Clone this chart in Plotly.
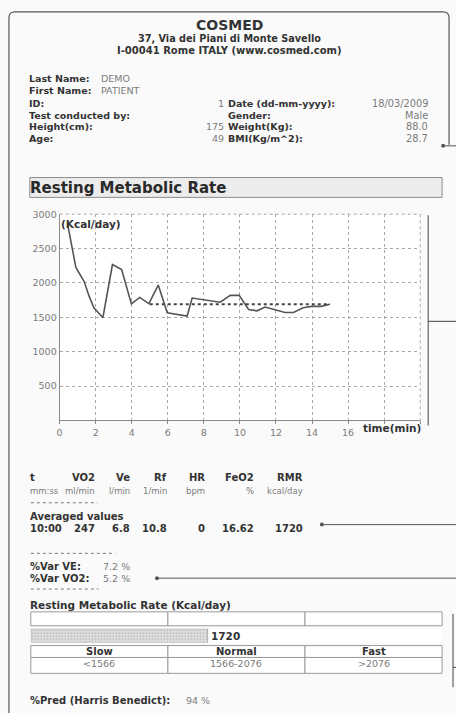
import plotly.graph_objects as go

# ---------------- data ----------------
time_min = [0.45, 0.9, 1.36, 1.64, 1.9, 2.4, 2.93, 3.44, 3.98, 4.44, 4.95, 5.47, 5.97,
            7.07, 7.35, 8.9, 9.47, 9.96, 10.48, 10.95, 11.4, 12.5, 12.97, 13.5, 13.98,
            14.5, 14.99]
rmr_kcal = [2850, 2225, 2020, 1805, 1640, 1495, 2268, 2196, 1696, 1790, 1700, 1970, 1567,
            1519, 1781, 1720, 1820, 1820, 1615, 1595, 1650, 1570, 1570, 1640, 1660,
            1660, 1690]
avg_time = [5.0, 15.0]
avg_rmr = [1690, 1690]

x_ticks = [0, 2, 4, 6, 8, 10, 12, 14, 16, 18, 20]
x_ticklabels = ["0", "2", "4", "6", "8", "10", "12", "14", "16", "", ""]
y_ticks = [0, 500, 1000, 1500, 2000, 2500, 3000]
y_ticklabels = ["", "500", "1000", "1500", "2000", "2500", "3000"]

header_lines = ["COSMED", "37, Via dei Piani di Monte Savello", "I-00041 Rome ITALY (www.cosmed.com)"]
left_labels = ["Last Name:", "First Name:", "ID:", "Test conducted by:", "Height(cm):", "Age:"]
left_values = ["DEMO", "PATIENT", "1", "", "175", "49"]
right_labels = ["", "", "Date (dd-mm-yyyy):", "Gender:", "Weight(Kg):", "BMI(Kg/m^2):"]
right_values = ["", "", "18/03/2009", "Male", "88.0", "28.7"]

col_names = ["t", "VO2", "Ve", "Rf", "HR", "FeO2", "RMR"]
col_units = ["mm:ss", "ml/min", "l/min", "1/min", "bpm", "%", "kcal/day"]
avg_values = ["10:00", "247", "6.8", "10.8", "0", "16.62", "1720"]
var_labels = ["%Var VE:", "%Var VO2:"]
var_values = ["7.2 %", "5.2 %"]
rmr_value = [1720]
rmr_scale = [0, 4000]
class_names = ["Slow", "Normal", "Fast"]
class_ranges = ["<1566", "1566-2076", ">2076"]
pred_label = "%Pred (Harris Benedict):"
pred_value = "94 %"

# ---------------- helpers ----------------
W, H = 456, 713
FONT = "DejaVu Sans, Verdana, sans-serif"
DARK = "#333333"
GREY = "#7a7a7a"


def px(x):
    return x / W


def py(y):
    return 1 - y / H


fig = go.Figure()


def text(x, y, s, size=10, bold=False, color=DARK, anchor="left", family=FONT):
    if anchor == "left":
        x -= 1
    fig.add_annotation(x=px(x), y=py(y), xref="paper", yref="paper", text=s,
                       showarrow=False, xanchor=anchor, yanchor="middle",
                       borderpad=0, borderwidth=0,
                       font=dict(family=family, size=size, color=color,
                                 weight="bold" if bold else "normal"))


def line(x0, y0, x1, y1, color="#555555", width=1, dash="solid"):
    fig.add_shape(type="line", xref="paper", yref="paper", x0=px(x0), y0=py(y0),
                  x1=px(x1), y1=py(y1), line=dict(color=color, width=width, dash=dash))


def rect(x0, y0, x1, y1, color="#999999", fill="rgba(0,0,0,0)", width=1):
    fig.add_shape(type="rect", xref="paper", yref="paper", x0=px(x0), y0=py(y1),
                  x1=px(x1), y1=py(y0), line=dict(color=color, width=width), fillcolor=fill)


def dot(x, y, r=2, color="#555555"):
    fig.add_shape(type="circle", xref="paper", yref="paper", x0=px(x - r), y0=py(y + r),
                  x1=px(x + r), y1=py(y - r), line=dict(color=color, width=0), fillcolor=color)


# ---------------- chart ----------------
fig.add_trace(go.Scatter(x=time_min, y=rmr_kcal, mode="lines",
                         line=dict(color="#555555", width=1.6), xaxis="x", yaxis="y",
                         showlegend=False, hoverinfo="skip"))
fig.add_trace(go.Scatter(x=avg_time, y=avg_rmr, mode="lines",
                         line=dict(color="#444444", width=2, dash="dot"), xaxis="x", yaxis="y",
                         showlegend=False, hoverinfo="skip"))

# RMR bar
fig.add_trace(go.Bar(x=rmr_value, y=[0], orientation="h", width=1, xaxis="x2", yaxis="y2",
                     marker=dict(color="#d8d8d8", line=dict(color="#aaaaaa", width=1),
                                 pattern=dict(shape=".", fgcolor="#8a8a8a", bgcolor="#e6e6e6",
                                              size=3, solidity=0.4)),
                     showlegend=False, hoverinfo="skip"))

fig.update_layout(
    width=W, height=H, autosize=False,
    margin=dict(l=0, r=0, t=0, b=0),
    paper_bgcolor="#fafafa", plot_bgcolor="#ffffff",
    xaxis=dict(domain=[px(57), px(420)], range=[0, 20], tickvals=x_ticks, ticktext=x_ticklabels,
               showgrid=True, gridcolor="#a8a8a8", griddash="dot", gridwidth=1,
               showline=True, linecolor="#8a8a8a", linewidth=1, zeroline=False,
               ticks="outside", ticklen=3, tickcolor="#8a8a8a",
               tickfont=dict(family=FONT, size=9.5, color="#7a7a7a"), anchor="y"),
    yaxis=dict(domain=[py(418), py(210)], range=[0, 3000], tickvals=y_ticks, ticktext=y_ticklabels,
               showgrid=True, gridcolor="#a8a8a8", griddash="dot", gridwidth=1,
               showline=True, linecolor="#8a8a8a", linewidth=1, zeroline=False,
               ticks="", ticklen=0,
               tickfont=dict(family=FONT, size=9.5, color="#7a7a7a"), anchor="x"),
    xaxis2=dict(domain=[px(28), px(442)], range=rmr_scale, visible=False, anchor="y2"),
    yaxis2=dict(domain=[py(642), py(628)], range=[-0.5, 0.5], visible=False, anchor="x2"),
)

# dotted borders at top and right of plot
line(57, 210, 420, 210, color="#a8a8a8", dash="dot")
line(420, 210, 420, 418, color="#a8a8a8", dash="dot")

text(59, 220, "(Kcal/day)", size=10.5, bold=True)
text(392, 426, "time(min)", size=10.5, bold=True, anchor="center")

# ---------------- page frame ----------------
r = 6
path = (f"M {px(6)},{py(713)} L {px(6)},{py(6 + r)} Q {px(6)},{py(6)} {px(6 + r)},{py(6)} "
        f"L {px(449 - r)},{py(6)} Q {px(449)},{py(6)} {px(449)},{py(6 + r)} L {px(449)},{py(140)}")
fig.add_shape(type="path", xref="paper", yref="paper", path=path,
              line=dict(color="#555555", width=1.2))

# ---------------- header ----------------
text(228, 19, header_lines[0], size=14, bold=True, anchor="center")
text(228, 33, header_lines[1], size=9.7, bold=True, anchor="center")
text(228, 45, header_lines[2], size=10, bold=True, anchor="center")

row_y = [73, 85, 98, 110, 122, 134]
for i, yy in enumerate(row_y):
    text(27, yy, left_labels[i], size=9.5, bold=True)
    if left_values[i]:
        if i < 2:
            text(100, yy, left_values[i], size=9.5, color=GREY)
        else:
            text(222, yy, left_values[i], size=9.5, color=GREY, anchor="right")
    if right_labels[i]:
        text(227, yy, right_labels[i], size=9.5, bold=True)
        text(428, yy, right_values[i], size=9.8, color=GREY, anchor="right")

dot(443, 141)
line(443, 141, 456, 141)

# title box
rect(27, 173, 442, 193, color="#8c8c8c", fill="#ececec")
text(28, 184, "Resting Metabolic Rate", size=15, bold=True, color="#2a2a2a")

# right bracket for chart
line(428, 211, 428, 423, color="#444444")
line(428, 318, 456, 318, color="#444444")

# ---------------- table ----------------
col_right = [None, 93, 128, 165, 203, 253, 302]
for i in range(len(col_names)):
    if i == 0:
        text(28, 475, col_names[i], size=10, bold=True)
        text(28, 489, col_units[i], size=8.5, color=GREY)
        text(28, 527, avg_values[i], size=10, bold=True)
    else:
        text(col_right[i], 475, col_names[i], size=10, bold=True, anchor="right")
        text(col_right[i], 489, col_units[i], size=8.5, color=GREY, anchor="right")
        text(col_right[i], 527, avg_values[i], size=10, bold=True, anchor="right")

line(28, 501, 95, 501, color="#777777", dash="dot")
text(28, 515, "Averaged values", size=10, bold=True)
dot(321, 523)
line(321, 523, 456, 523)

line(28, 552, 113, 552, color="#777777", dash="dot")
text(28, 565, var_labels[0], size=10, bold=True)
text(102, 565, var_values[0], size=9.5, color=GREY)
text(28, 577, var_labels[1], size=10, bold=True)
text(102, 577, var_values[1], size=9.5, color=GREY)
dot(155, 577)
line(155, 577, 456, 577)
line(28, 588, 96, 588, color="#777777", dash="dot")

text(28, 604, "Resting Metabolic Rate (Kcal/day)", size=10.5, bold=True)

# empty scale row
xs = [28, 166, 304, 442]
for a, b in zip(xs[:-1], xs[1:]):
    rect(a, 611, b, 625, color="#9a9a9a", fill="#ffffff")
text(210, 635, str(rmr_value[0]), size=10.5, bold=True)

# classification table
for k, (a, b) in enumerate(zip(xs[:-1], xs[1:])):
    rect(a, 645, b, 657, color="#9a9a9a", fill="#ffffff")
    rect(a, 657, b, 673, color="#9a9a9a", fill="#ffffff")
    text((a + b) / 2, 651, class_names[k], size=10, bold=True, anchor="center")
    text((a + b) / 2, 663, class_ranges[k], size=9.5, color=GREY, anchor="center")

line(453, 613, 453, 687, color="#444444")
line(453, 667, 456, 667, color="#444444")

text(28, 700, pred_label, size=10, bold=True)
text(185, 700, pred_value, size=9.5, color=GREY)

fig.write_html("out.html", config={"displayModeBar": False},
               post_script="document.body.style.margin='0';document.body.style.padding='0';"
                           "document.body.style.overflow='hidden';"
                           "document.documentElement.style.overflow='hidden';")
